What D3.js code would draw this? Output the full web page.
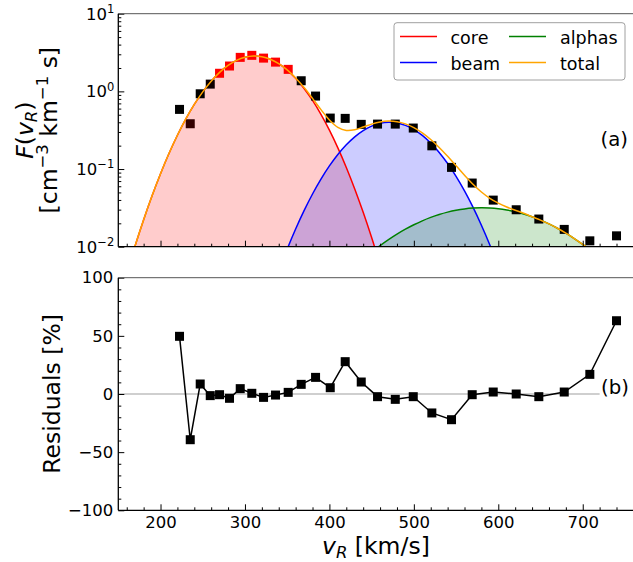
<!DOCTYPE html>
<html><head><meta charset="utf-8">
<script src="https://cdn.jsdelivr.net/npm/d3@7"></script>
<style>
body{margin:0;background:#fff}
svg{display:block}
text{font-family:"DejaVu Sans",sans-serif;fill:#000}
</style>
</head><body>
<svg id="chart" width="633" height="562"></svg>
<script>
// ---- measured data points ----
const vR = [222.5, 235.2, 247.0, 258.9, 269.9, 281.7, 294.4, 308.1, 322.0, 336.2, 351.2, 366.6, 383.6, 401.0, 418.7, 437.7, 457.0, 478.0, 499.3, 521.3, 544.6, 569.1, 594.0, 621.2, 648.0, 678.1, 708.4, 740.0];
const F = [0.586, 0.383, 0.931, 1.24, 1.71, 2.12, 2.74, 2.91, 2.68, 2.38, 1.92, 1.37, 0.87, 0.453, 0.449, 0.376, 0.379, 0.379, 0.337, 0.199, 0.105, 0.066, 0.0398, 0.0299, 0.0227, 0.0167, 0.0119, 0.0138];
const fitWeight = [0, 0.2, 0, 0.05, 1, 1, 1, 1, 1, 1, 1, 0, 0, 0, 0, 0, 0, 0, 0, 0, 0, 0, 0, 0, 0, 0, 0, 0];
const residuals = [49.6, -39.3, 8.6, -1.4, -0.6, -3.7, 4.6, 0.6, -2.9, -0.9, 1.4, 8.3, 14.3, 5.4, 27.8, 10.3, -2.3, -4.6, -2.3, -16.3, -22.1, -0.6, 1.7, 0.0, -2.3, 1.7, 16.9, 63.0];

// ---- fitted model curves ----
const gridV = [160,170,180,190,200,210,220,230,240,250,260,270,280,290,300,310,320,330,340,350,360,370,380,390,400,410,420,430,440,450,460,470,480,490,500,510,520,530,540,550,560,570,580,590,600,610,620,630,640,650,660,670,680,690,700,710,720,730];
const coreF = [0.00455,0.01035,0.02228,0.04529,0.0871,0.1582,0.272,0.4418,0.6788,0.986,1.354,1.758,2.158,2.503,2.746,2.848,2.793,2.589,2.269,1.880,1.473,1.091,0.7638,0.5058,0.3165,0.1873,0.1048,0.0554,0.02771,0.0131,0.00585,0.00247,
  null,null,null,null,null,null,null,null,null,null,null,null,null,null,null,null,null,null,null,null,null,null,null,null,null,null];
const beamF = [null,null,null,null,null,null,null,null,null,null,null,null,null,null,null,null,null,
  0.00242,0.00488,0.00931,0.01689,0.02913,0.0477,0.0742,0.1096,0.1539,0.2051,0.2598,0.3125,0.3572,0.3878,0.3999,0.3918,0.3645,0.3223,0.2706,0.2159,0.1636,0.1178,0.0805,0.0523,0.03228,0.01891,0.01053,0.00557,0.0028,
  null,null,null,null,null,null,null,null,null,null,null,null];
const alphaF = [null,null,null,null,null,null,null,null,null,null,null,null,null,null,null,null,null,null,null,null,null,null,null,null,null,null,null,
  0.00552,0.0069,0.0085,0.01032,0.01233,0.01451,0.0168,0.01917,0.02154,0.02384,0.02598,0.02787,0.02945,0.03065,0.03141,0.0317,0.0315,0.03084,0.02972,0.02821,0.02637,0.02427,0.02201,0.01965,0.01727,0.01495,0.01275,0.0107,0.00885,0.00721,0.00578];
const totalF = [0.00455,0.01035,0.02228,0.04529,0.0871,0.1582,0.272,0.4418,0.6788,0.986,1.354,1.758,2.158,2.503,2.746,2.848,
  2.794,2.591,2.274,1.889,1.490,1.121,0.8125,0.582,0.4287,0.3446,0.3142,0.3207,0.3471,0.3788,0.404,0.4147,
  0.4073,0.3817,0.3415,0.2921,0.2397,0.1896,0.1457,0.110,0.083,0.0637,0.0506,0.042,0.0364,0.0325,0.0295,0.027,
  0.0243,0.022,0.01965,0.01727,0.01495,0.01275,0.0107,0.00885,0.00721,0.00578];

const seriesNames = ["core", "beam", "alphas", "total"];
const xMajor = [200, 300, 400, 500, 600, 700];
const xMinor = [160, 180, 220, 240, 260, 280, 320, 340, 360, 380, 420, 440, 460, 480, 520, 540, 560, 580, 620, 640, 660, 680, 720, 740, 760];
const yTopMajor = [0.01, 0.1, 1, 10];
const yTopExp = ["−2", "−1", "0", "1"];
const yBotMajor = [-100, -50, 0, 50, 100];
const yBotMinor = [-90,-80,-70,-60,-40,-30,-20,-10,10,20,30,40,60,70,80,90];

// ---- styling ----
const colors = {core: "#ff0000", beam: "#0000ff", alphas: "#008000", total: "#ffa500"};
const svg = d3.select("#chart");
const X0 = 118.3, X1 = 633.4;
const x = d3.scaleLinear().domain([150, 760]).range([X0, X1]);
const yT = d3.scaleLog().domain([0.01, 10]).range([246.7, 13.7]);
const yB = d3.scaleLinear().domain([-100, 100]).range([510.3, 277.7]);
const markerColor = d3.scaleLinear().domain([0, 1]).range(["#000000", "#ff0000"]);

const yTopMinor = [];
[0.01, 0.1, 1].forEach(d => { for (let k = 2; k <= 9; k++) yTopMinor.push(+(d * k).toPrecision(3)); });

svg.append("defs").append("clipPath").attr("id", "clipTop")
  .append("rect").attr("x", X0).attr("y", yT.range()[1]).attr("width", X1 - X0).attr("height", yT.range()[0] - yT.range()[1]);

// ---- top panel ----
const topG = svg.append("g");
const comps = [["core", coreF], ["beam", beamF], ["alphas", alphaF]];
const area = arr => d3.area()
  .defined((d, i) => arr[i] != null)
  .x((d, i) => x(gridV[i]))
  .y0(yT.range()[0] + 5)
  .y1((d, i) => yT(arr[i]))
  .curve(d3.curveCatmullRom.alpha(0.5));
const line = arr => d3.line()
  .defined((d, i) => arr[i] != null)
  .x((d, i) => x(gridV[i]))
  .y((d, i) => yT(arr[i]))
  .curve(d3.curveCatmullRom.alpha(0.5));

const plot = topG.append("g").attr("clip-path", "url(#clipTop)");
comps.forEach(([name, arr]) => {
  plot.append("path").attr("d", area(arr)(gridV)).attr("fill", colors[name]).attr("fill-opacity", 0.2).attr("stroke", "none");
});
comps.forEach(([name, arr]) => {
  plot.append("path").attr("d", line(arr)(gridV)).attr("fill", "none").attr("stroke", colors[name]).attr("stroke-width", 1.5);
});
const ms = 9;
plot.selectAll("rect.pt").data(vR).join("rect").attr("class", "pt")
  .attr("x", (d) => x(d) - ms / 2).attr("y", (d, i) => yT(F[i]) - ms / 2)
  .attr("width", ms).attr("height", ms)
  .attr("fill", (d, i) => markerColor(fitWeight[i]));
plot.append("path").attr("d", line(totalF)(gridV)).attr("fill", "none").attr("stroke", colors.total).attr("stroke-width", 1.5);

// axes top
const tickStyle = g => { g.select(".domain").remove(); g.selectAll(".tick line").attr("stroke", "#000").attr("stroke-width", 1); g.selectAll(".tick text").style("font-family", "DejaVu Sans").style("font-size", "16.5px").attr("fill", "#000"); };
topG.append("g").attr("transform", `translate(0,${yT.range()[0]})`)
  .call(d3.axisBottom(x).tickValues(xMajor).tickSize(-6).tickFormat("")).call(tickStyle);
topG.append("g").attr("transform", `translate(0,${yT.range()[0]})`)
  .call(d3.axisBottom(x).tickValues(xMinor).tickSize(-3).tickFormat("")).call(tickStyle);
topG.append("g").attr("transform", `translate(${X0},0)`)
  .call(d3.axisLeft(yT).tickValues(yTopMajor).tickSize(-6).tickFormat("")).call(tickStyle);
topG.append("g").attr("transform", `translate(${X0},0)`)
  .call(d3.axisLeft(yT).tickValues(yTopMinor).tickSize(-3).tickFormat("")).call(tickStyle);
yTopMajor.forEach((d, i) => {
  const t = topG.append("text").attr("x", X0 - 4).attr("y", yT(d)).attr("dy", "0.36em")
    .attr("text-anchor", "end").style("font-size", "16.5px");
  t.append("tspan").text("10");
  t.append("tspan").attr("dy", -6.5).style("font-size", "11.5px").text(yTopExp[i]);
});
// spines top
topG.append("line").attr("x1", X0).attr("x2", X1).attr("y1", yT.range()[1]).attr("y2", yT.range()[1]).attr("stroke", "#555").attr("stroke-width", 1);
topG.append("line").attr("x1", X0).attr("x2", X1).attr("y1", yT.range()[0]).attr("y2", yT.range()[0]).attr("stroke", "#000").attr("stroke-width", 1.3);
topG.append("line").attr("x1", X0).attr("x2", X0).attr("y1", yT.range()[1]).attr("y2", yT.range()[0]).attr("stroke", "#000").attr("stroke-width", 1.3);

// legend
const lg = topG.append("g");
lg.append("rect").attr("x", 394).attr("y", 22.7).attr("width", 231).attr("height", 57.3).attr("rx", 3)
  .attr("fill", "#fff").attr("fill-opacity", 0.8).attr("stroke", "#a0a0a0").attr("stroke-width", 1);
const lgPos = {core: [400, 36.5, 450.5, 44], beam: [400, 62.5, 450.5, 70], alphas: [509, 36.5, 560, 44], total: [509, 62.5, 560, 70]};
seriesNames.forEach(n => {
  const p = lgPos[n];
  lg.append("line").attr("x1", p[0]).attr("x2", p[0] + 37).attr("y1", p[1]).attr("y2", p[1]).attr("stroke", colors[n]).attr("stroke-width", 1.5);
  lg.append("text").attr("x", p[2]).attr("y", p[3]).style("font-size", "17.5px").text(n);
});
topG.append("text").attr("x", 600.5).attr("y", 145.5).style("font-size", "19.7px").text("(a)");

// y label top
const yl1 = topG.append("text").attr("transform", "translate(33.3,130.2) rotate(-90)").attr("text-anchor", "middle").style("font-size", "23.5px");
yl1.append("tspan").style("font-style", "italic").text("F");
yl1.append("tspan").text("(");
yl1.append("tspan").style("font-style", "italic").text("v");
yl1.append("tspan").style("font-style", "italic").style("font-size", "16.5px").attr("dy", 4).text("R");
yl1.append("tspan").attr("dy", -4).text(")");
const yl2 = topG.append("text").attr("transform", "translate(56.7,130.2) rotate(-90)").attr("text-anchor", "middle").style("font-size", "23.5px");
yl2.append("tspan").text("[cm");
yl2.append("tspan").style("font-size", "16.5px").attr("dy", -9).text("−3");
yl2.append("tspan").attr("dy", 9).text(" km");
yl2.append("tspan").style("font-size", "16.5px").attr("dy", -9).text("−1");
yl2.append("tspan").attr("dy", 9).text(" s]");

// ---- bottom panel ----
const bot = svg.append("g");
bot.append("line").attr("x1", X0).attr("x2", x(720)).attr("y1", yB(0)).attr("y2", yB(0)).attr("stroke", "#bfbfbf").attr("stroke-width", 1.5);
bot.append("path").attr("d", d3.line().x(d => x(d)).y((d, i) => yB(residuals[i]))(vR))
  .attr("fill", "none").attr("stroke", "#000").attr("stroke-width", 1.5);
bot.selectAll("rect.rp").data(vR).join("rect").attr("class", "rp")
  .attr("x", d => x(d) - ms / 2).attr("y", (d, i) => yB(residuals[i]) - ms / 2)
  .attr("width", ms).attr("height", ms).attr("fill", "#000");
bot.append("g").attr("transform", `translate(0,${yB.range()[0]})`)
  .call(d3.axisBottom(x).tickValues(xMajor).tickSize(-6).tickPadding(6).tickFormat(d3.format("d"))).call(tickStyle);
bot.append("g").attr("transform", `translate(0,${yB.range()[0]})`)
  .call(d3.axisBottom(x).tickValues(xMinor).tickSize(-3).tickFormat("")).call(tickStyle);
bot.append("g").attr("transform", `translate(${X0},0)`)
  .call(d3.axisLeft(yB).tickValues(yBotMajor).tickSize(-6).tickPadding(5).tickFormat(d3.format("d"))).call(tickStyle);
bot.append("g").attr("transform", `translate(${X0},0)`)
  .call(d3.axisLeft(yB).tickValues(yBotMinor).tickSize(-3).tickFormat("")).call(tickStyle);
bot.append("line").attr("x1", X0).attr("x2", X1).attr("y1", yB.range()[1]).attr("y2", yB.range()[1]).attr("stroke", "#555").attr("stroke-width", 1);
bot.append("line").attr("x1", X0).attr("x2", X1).attr("y1", yB.range()[0]).attr("y2", yB.range()[0]).attr("stroke", "#000").attr("stroke-width", 1.3);
bot.append("line").attr("x1", X0).attr("x2", X0).attr("y1", yB.range()[1]).attr("y2", yB.range()[0]).attr("stroke", "#000").attr("stroke-width", 1.3);
bot.append("text").attr("x", 601).attr("y", 394.1).style("font-size", "19.7px").text("(b)");

bot.append("text").attr("transform", "translate(60,393.9) rotate(-90)").attr("text-anchor", "middle").style("font-size", "23.5px").text("Residuals [%]");
const xl = bot.append("text").attr("x", 375.9).attr("y", 553.5).attr("text-anchor", "middle").style("font-size", "23.5px");
xl.append("tspan").style("font-style", "italic").text("v");
xl.append("tspan").style("font-style", "italic").style("font-size", "16.5px").attr("dy", 4).text("R");
xl.append("tspan").attr("dy", -4).text(" [km/s]");
</script>
</body></html>
